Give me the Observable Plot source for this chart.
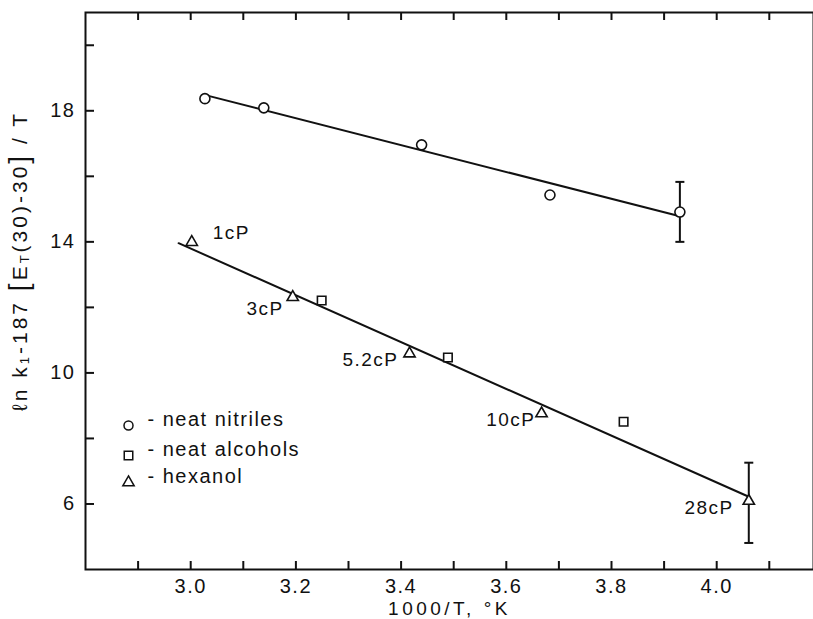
<!DOCTYPE html>
<html><head><meta charset="utf-8">
<script src="https://cdn.jsdelivr.net/npm/d3@7"></script>
<script src="https://cdn.jsdelivr.net/npm/@observablehq/plot@0.6"></script>
<style>
html,body{margin:0;padding:0;background:#fff;}
#chart svg{display:block;}
#chart svg text{letter-spacing:1.5px;}
</style></head><body><div id="chart"></div>
<script>
// ---- data ----
const nitrileX = [3.027, 3.139, 3.439, 3.683, 3.930];
const nitrileY = [18.37, 18.09, 16.96, 15.43, 14.91];
const alcoholX = [3.249, 3.489, 3.823];
const alcoholY = [12.21, 10.47, 8.51];
const hexanolX = [3.002, 3.194, 3.416, 3.667, 4.061];
const hexanolY = [13.99, 12.31, 10.59, 8.76, 6.09];
const hexanolLabels = ["1cP", "3cP", "5.2cP", "10cP", "28cP"];
const fitNitrileX = [3.03, 3.93];
const fitNitrileY = [18.47, 14.78];
const fitHexanolX = [2.977, 4.061];
const fitHexanolY = [13.96, 6.22];
const errorX = [3.930, 4.061];
const errorLow = [14.00, 4.81];
const errorHigh = [15.83, 7.26];
const xTicks = [2.9, 3.0, 3.1, 3.2, 3.3, 3.4, 3.5, 3.6, 3.7, 3.8, 3.9, 4.0, 4.1];
const xTickLabels = [3.0, 3.2, 3.4, 3.6, 3.8, 4.0];
const yTicks = [6, 8, 10, 12, 14, 16, 18, 20];
const yTickLabels = [6, 10, 14, 18];
const legendLabels = ["- neat nitriles", "- neat alcohols", "- hexanol"];
const xLabel = "1000/T, °K";

// ---- tables built from the arrays ----
const nitriles = nitrileX.map((x, i) => ({x, y: nitrileY[i]}));
const alcohols = alcoholX.map((x, i) => ({x, y: alcoholY[i]}));
const hexanol = hexanolX.map((x, i) => ({x, y: hexanolY[i], label: hexanolLabels[i]}));
const fitN = fitNitrileX.map((x, i) => ({x, y: fitNitrileY[i]}));
const fitH = fitHexanolX.map((x, i) => ({x, y: fitHexanolY[i]}));
const errors = errorX.map((x, i) => ({x, y1: errorLow[i], y2: errorHigh[i]}));
const caps = errors.flatMap(d => [{x: d.x, y: d.y1}, {x: d.x, y: d.y2}]);

// ---- styling ----
const ink = "#111";
const W = 813, H = 619, mL = 85, mT = 12, mR = 0, mB = 50;
const plotW = W - mL - mR, plotH = H - mT - mB;
const hline = {draw(ctx, size) { const r = Math.sqrt(size / Math.PI); ctx.moveTo(-r, 0); ctx.lineTo(r, 0); }};
const labelOffsets = [
  {dx: 21, dy: -9, textAnchor: "start"},
  {dx: -9, dy: 12, textAnchor: "end"},
  {dx: -11, dy: 6, textAnchor: "end"},
  {dx: -6, dy: 6, textAnchor: "end"},
  {dx: -15, dy: 7, textAnchor: "end"}
];
const legendRows = [
  {symbol: "circle", r: 4.5, dy: -144},
  {symbol: "square", r: 4.8, dy: -114},
  {symbol: "triangle", r: 4.2, dy: -87}
];

const marks = [
  Plot.frame({stroke: ink, strokeWidth: 2}),
  // inward ticks
  Plot.ruleX(xTicks, {x: d => d, insetTop: plotH - 8, stroke: ink, strokeWidth: 2}),
  Plot.ruleX(xTicks, {x: d => d, insetBottom: plotH - 8, stroke: ink, strokeWidth: 2}),
  Plot.ruleY(yTicks, {y: d => d, insetRight: plotW - 9, stroke: ink, strokeWidth: 2}),
  Plot.axisX(xTickLabels, {anchor: "bottom", tickSize: 0, tickPadding: 9, tickFormat: d => d.toFixed(1), fontSize: 20, fill: ink, label: null}),
  Plot.axisY(yTickLabels, {anchor: "left", tickSize: 0, tickPadding: 10, fontSize: 20, fill: ink, label: null}),
  // fits
  Plot.line(fitN, {x: "x", y: "y", stroke: ink, strokeWidth: 2}),
  Plot.line(fitH, {x: "x", y: "y", stroke: ink, strokeWidth: 2}),
  // error bars
  Plot.ruleX(errors, {x: "x", y1: "y1", y2: "y2", stroke: ink, strokeWidth: 2}),
  Plot.dot(caps, {x: "x", y: "y", symbol: hline, r: 4.5, stroke: ink, strokeWidth: 2}),
  // points
  Plot.dot(nitriles, {x: "x", y: "y", symbol: "circle", r: 5, fill: "white", stroke: ink, strokeWidth: 1.6}),
  Plot.dot(alcohols, {x: "x", y: "y", symbol: "square", r: 4.8, fill: "white", stroke: ink, strokeWidth: 1.6}),
  Plot.dot(hexanol, {x: "x", y: "y", symbol: "triangle", r: 4.2, fill: "white", stroke: ink, strokeWidth: 1.6}),
  // viscosity labels
  ...hexanol.map((d, i) => Plot.text([d], {x: "x", y: "y", text: "label", ...labelOffsets[i], fontSize: 19, fill: ink})),
  // legend
  ...legendRows.map((row, i) => Plot.dot([legendLabels[i]], {frameAnchor: "bottom-left", dx: 43, dy: row.dy, symbol: row.symbol, r: row.r, fill: "white", stroke: ink, strokeWidth: 1.5})),
  ...legendRows.map((row, i) => Plot.text([legendLabels[i]], {frameAnchor: "bottom-left", dx: 62, dy: row.dy, text: d => d, textAnchor: "start", fontSize: 20, fill: ink})),
  // x label
  Plot.text([xLabel], {frameAnchor: "bottom", dy: 32, lineAnchor: "top", text: d => d, fontSize: 19, fill: ink})
];

const chart = Plot.plot({
  width: W, height: H,
  marginLeft: mL, marginTop: mT, marginRight: mR, marginBottom: mB,
  x: {domain: [2.8, 2.8 + plotW / 526], axis: null},
  y: {domain: [4, 21], axis: null},
  style: {fontFamily: "'Liberation Sans', Arial, sans-serif", background: "white", color: ink},
  marks
});
document.getElementById("chart").appendChild(chart);

// wider letter spacing on the x-axis title, as in the reference
d3.select(chart).selectAll("text").filter(function() { return this.textContent === xLabel; })
  .style("letter-spacing", "3.5px");

// y-axis title with subscripts
const yt = d3.select(chart).append("text")
  .attr("transform", "translate(21,261) rotate(-90)")
  .attr("text-anchor", "middle")
  .attr("dominant-baseline", "middle")
  .attr("font-size", 21)
  .attr("fill", ink)
  .style("letter-spacing", "3px");
yt.append("tspan").text("ℓn k");
yt.append("tspan").attr("font-size", 13).attr("dy", 5).text("1");
yt.append("tspan").attr("dy", -5).text("-187 ");
yt.append("tspan").attr("font-size", 28).text("[");
yt.append("tspan").text("E");
yt.append("tspan").attr("font-size", 13).attr("dy", 5).text("T");
yt.append("tspan").attr("dy", -5).text("(30)-30");
yt.append("tspan").attr("font-size", 28).text("]");
yt.append("tspan").text(" / T");
</script></body></html>
